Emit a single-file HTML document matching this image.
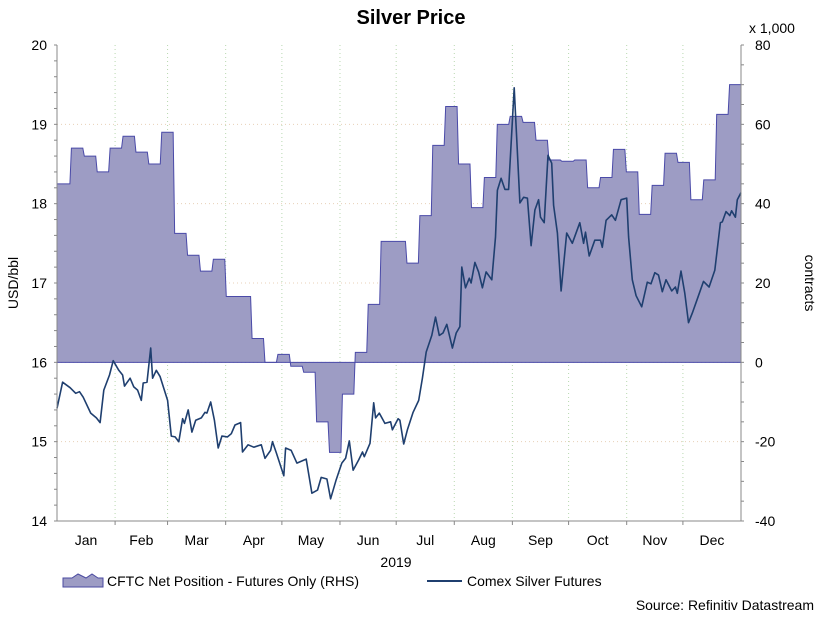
<!DOCTYPE html>
<html><head><meta charset="utf-8">
<style>
body{margin:0;background:#fff;}
svg text{font-family:"Liberation Sans",Arial,sans-serif;fill:#000;}
</style></head>
<body>
<svg id="chart" width="819" height="615" viewBox="0 0 819 615" xmlns="http://www.w3.org/2000/svg">
<rect width="819" height="615" fill="#fff"/>
<text x="411" y="24" font-size="20" font-weight="bold" text-anchor="middle">Silver Price</text>
<g id="grid"></g>
<g id="series"></g>
<g id="axes"></g>
<text transform="translate(18,283) rotate(-90)" font-size="14" text-anchor="middle">USD/bbl</text>
<text transform="translate(805,283) rotate(90)" font-size="14" text-anchor="middle">contracts</text>
<text x="749" y="33" font-size="14">x 1,000</text>
<text x="396" y="567" font-size="14" text-anchor="middle">2019</text>
<g>
  <path d="M63,587 L63,578 L72,578 L78,574 L86,578 L92,574 L98,578 L103,578 L103,587 Z" fill="#9d9cc4" stroke="#4a4aa0" stroke-width="1"/>
  <text x="107" y="586" font-size="14">CFTC Net Position - Futures Only (RHS)</text>
  <line x1="427" y1="581" x2="462" y2="581" stroke="#1f3f6f" stroke-width="2"/>
  <text x="467" y="586" font-size="14">Comex Silver Futures</text>
</g>
<text x="814" y="610" font-size="14" text-anchor="end">Source: Refinitiv Datastream</text>
</svg>
<script>
const months = ["Jan","Feb","Mar","Apr","May","Jun","Jul","Aug","Sep","Oct","Nov","Dec"];
const monthStarts = [0,31,59,90,120,151,181,212,243,273,304,334,365];
const leftTicks = [14,15,16,17,18,19,20];
const rightTicks = [-40,-20,0,20,40,60,80];
const cftcWeekly = [45,54,52,48,54,57,53,50,58,32.5,27,23,26,16.6,16.6,6,0,2,-1,-2.5,-15,-22.7,-8,2.5,14.6,30.5,30.5,25,37,54.7,64.5,50,39,46.6,60,62,60.5,56,51,50.7,51,44,46.6,53.7,48,37.3,44.6,52.7,50.4,41,46,62.5,70];
const priceDays = [0,3,7,10,12,14,18,21,23,25,28,30,33,35,36,39,41,43,45,46,48,50,51,53,55,59,61,63,65,67,68,70,72,74,77,79,80,82,84,86,88,91,93,95,98,99,102,105,109,111,114,115,117,121,122,125,128,133,136,139,141,144,146,149,152,154,156,158,161,163,164,167,169,170,172,175,178,179,182,183,185,187,190,193,195,197,200,202,204,206,208,211,213,215,216,218,220,221,223,225,227,229,232,234,235,237,239,241,244,247,249,251,253,255,257,258,260,262,264,265,267,269,272,275,279,281,282,284,287,290,291,293,296,298,301,304,305,307,309,312,315,317,319,321,323,325,328,330,331,333,335,337,339,342,345,348,351,354,355,357,359,360,362,363,365];
const priceValues = [15.42,15.75,15.68,15.61,15.63,15.56,15.36,15.30,15.24,15.65,15.84,16.02,15.90,15.84,15.70,15.80,15.69,15.65,15.52,15.74,15.75,16.18,15.80,15.90,15.82,15.52,15.07,15.06,15.00,15.29,15.23,15.40,15.12,15.27,15.30,15.37,15.36,15.50,15.27,14.92,15.07,15.06,15.10,15.21,15.24,14.87,14.96,14.93,14.96,14.79,14.89,15.00,14.86,14.57,14.92,14.89,14.73,14.78,14.35,14.39,14.55,14.53,14.28,14.52,14.73,14.79,15.01,14.64,14.77,14.87,14.81,14.98,15.49,15.30,15.36,15.23,15.25,15.15,15.29,15.27,14.97,15.15,15.37,15.52,15.80,16.13,16.34,16.57,16.34,16.37,16.48,16.18,16.37,16.45,17.20,16.94,17.06,17.00,17.26,17.14,16.94,17.14,17.04,17.58,18.17,18.32,18.18,18.18,19.46,18.01,18.08,18.07,17.47,17.92,18.05,17.83,17.76,18.61,18.51,17.98,17.63,16.90,17.63,17.50,17.76,17.50,17.64,17.34,17.54,17.54,17.45,17.79,17.86,17.79,18.05,18.07,17.58,17.04,16.84,16.70,17.01,16.99,17.13,17.10,16.89,17.04,16.90,16.95,16.87,17.15,16.87,16.50,16.62,16.82,17.02,16.95,17.16,17.76,17.77,17.90,17.85,17.91,17.83,18.05,18.14];

const NS = "http://www.w3.org/2000/svg";
const L = 57, R = 741, T = 45, B = 521;
const xS = d => L + (d / 365) * (R - L);
const yL = v => B - (v - 14) / 6 * (B - T);
const yR = v => B - (v + 40) / 120 * (B - T);
function mk(tag, attrs, parent){const e=document.createElementNS(NS,tag);for(const k in attrs)e.setAttribute(k,attrs[k]);parent.appendChild(e);return e;}
const grid = document.getElementById('grid'), series = document.getElementById('series'), axes = document.getElementById('axes');

// grid
for (let i = 1; i < monthStarts.length - 1; i++) {
  const x = xS(monthStarts[i]);
  const g = mk('line',{x1:x,y1:T,x2:x,y2:B,stroke:'#b8d8b0','stroke-width':1,'stroke-dasharray':'1,3'},grid);
  
  
}
leftTicks.forEach(v => {
  if (v === 14 || v === 20) return;
  const y = yL(v);
  const g = mk('line',{x1:L,y1:y,x2:R,y2:y,stroke:'#e8d0b8','stroke-width':1,'stroke-dasharray':'1,3'},grid);
  
  
});

// CFTC area
const w = 365 / cftcWeekly.length;
let d = 'M' + xS(0) + ',' + yR(0);
let ld = '';
cftcWeekly.forEach((v, i) => {
  const x0 = xS(i * w), x1 = xS((i + 1) * w);
  const y = yR(v);
  d += ' L' + (i === 0 ? x0 : x0 + 1.5) + ',' + y + ' L' + x1 + ',' + y;
  ld += (i === 0 ? 'M' : ' L') + (i === 0 ? x0 : x0 + 1.5) + ',' + y + ' L' + x1 + ',' + y;
});
d += ' L' + xS(365) + ',' + yR(0) + ' Z';
const area = mk('path',{d:d,fill:'#9d9cc4',stroke:'none'},series);


const aline = mk('path',{d:ld,fill:'none',stroke:'#4a4aa8','stroke-width':1},series);


const zl = mk('line',{x1:L,y1:yR(0),x2:R,y2:yR(0),stroke:'#4a4aa8','stroke-width':1},series);



// price line
const pts = priceDays.map((dd, i) => xS(dd).toFixed(1) + ',' + yL(priceValues[i]).toFixed(1)).join(' ');
const pl = mk('polyline',{points:pts,fill:'none',stroke:'#1f3f6f','stroke-width':1.6,'stroke-linejoin':'round'},series);



// axes
const axAttrs = {stroke:'#888','stroke-width':1};
const la = mk('line',Object.assign({x1:L,y1:T,x2:L,y2:B},axAttrs),axes);


const ra = mk('line',Object.assign({x1:R,y1:T,x2:R,y2:B},axAttrs),axes);


const ba = mk('line',Object.assign({x1:L,y1:B,x2:R,y2:B},axAttrs),axes);


for (let v = 14; v <= 20.001; v += 0.2) {
  const y = yL(v);
  mk('line',{x1:L-3,y1:y,x2:L,y2:y,stroke:'#888'},axes);
}
for (let v = -40; v <= 80; v += 5) {
  const y = yR(v);
  mk('line',{x1:R,y1:y,x2:R+3,y2:y,stroke:'#888'},axes);
}
leftTicks.forEach(v => {
  const t = mk('text',{x:L-10,y:yL(v)+5,'font-size':14,'text-anchor':'end'},axes);
  t.textContent = v;
  
  
});
rightTicks.forEach(v => {
  const t = mk('text',{x:R+14,y:yR(v)+5,'font-size':14,'text-anchor':'start'},axes);
  t.textContent = v;
  
  
});
months.forEach((m, i) => {
  const x = (xS(monthStarts[i]) + xS(monthStarts[i + 1])) / 2;
  const t = mk('text',{x:x,y:545,'font-size':14,'text-anchor':'middle'},axes);
  t.textContent = m;
  
  
  if (i > 0) mk('line',{x1:xS(monthStarts[i]),y1:B,x2:xS(monthStarts[i]),y2:B+4,stroke:'#888'},axes);
});
</script>
</body></html>
